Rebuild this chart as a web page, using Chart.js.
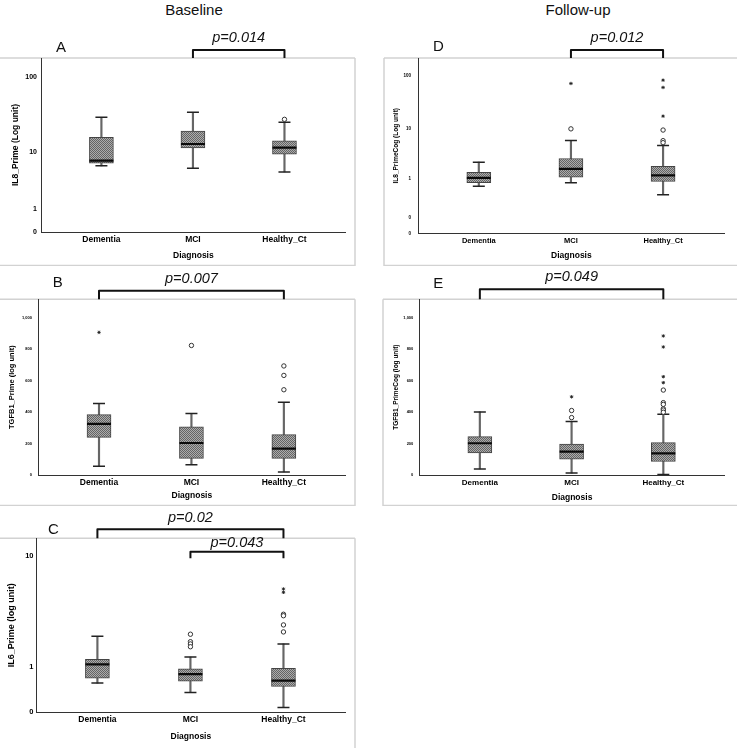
<!DOCTYPE html>
<html>
<head>
<meta charset="utf-8">
<title>Cytokine box plots</title>
<script src="https://cdn.jsdelivr.net/npm/chart.js@4.4.1/dist/chart.umd.min.js"></script>
<style>
  body { margin: 0; background: #fff; }
  #page { position: relative; width: 739px; height: 748px; overflow: hidden; font-family: "Liberation Sans", Arial, sans-serif; }
  #page canvas { position: absolute; }
  .head { position: absolute; top: 0; font-size: 15px; line-height: 19px; color: #111; transform: translateX(-50%); white-space: nowrap; }
</style>
</head>
<body>
<div id="page">
  <div class="head" style="left:194px">Baseline</div>
  <div class="head" style="left:578px">Follow-up</div>
  <canvas id="chartA" width="360" height="266" style="left:0;top:0"></canvas>
  <canvas id="chartD" width="369" height="266" style="left:370px;top:0"></canvas>
  <canvas id="chartB" width="360" height="240" style="left:0;top:266px"></canvas>
  <canvas id="chartE" width="369" height="240" style="left:370px;top:266px"></canvas>
  <canvas id="chartC" width="360" height="242" style="left:0;top:506px"></canvas>
</div>
<script>
const categories = ["Dementia", "MCI", "Healthy_Ct"];

// each group: [lower whisker, Q1, median, Q3, upper whisker]
const il8Baseline = [[6.2, 6.8, 7.4, 15.9, 29.6], [5.7, 11.25, 12.8, 19.3, 34.5], [5.0, 9.2, 11.4, 14.2, 25.4]];
const il8BaselineCircles = [[], [], [27.8]];
const il8BaselineStars = [[], [], []];

const tgfBaseline = [[55, 239, 325, 383, 454], [65, 105, 203, 305, 391], [19, 105, 167, 256, 461]];
const tgfBaselineCircles = [[], [822], [692, 632, 541]];
const tgfBaselineStars = [[905], [], []];

const il6Baseline = [[0.56, 0.68, 1.08, 1.25, 2.21], [0.35, 0.61, 0.79, 0.94, 1.33], [0.07, 0.48, 0.62, 0.96, 1.85]];
const il6BaselineCircles = [[], [2.31, 1.95, 1.85, 1.73], [3.5, 3.4, 2.82, 2.43]];
const il6BaselineStars = [[], [], [5.64, 5.31]];

const il8Follow = [[0.70, 0.83, 1.05, 1.36, 2.19], [0.83, 1.09, 1.61, 2.59, 5.84], [0.45, 0.88, 1.18, 1.82, 4.67]];
const il8FollowCircles = [[], [9.8], [9.3, 5.8, 5.3]];
const il8FollowStars = [[], [72.5], [83.9, 60.9, 17.2]];

const tgfFollow = [[38, 140, 202, 244, 401], [12, 100, 148, 197, 340], [3, 86, 138, 206, 386]];
const tgfFollowCircles = [[], [410, 365], [540, 460, 449, 421, 413, 399]];
const tgfFollowStars = [[], [497], [884, 814, 625, 587]];

const logTicks = [0, 1, 10, 100];
const logTickLabels = ["0", "1", "10", "100"];
const il6Ticks = [0, 1, 10];
const il6TickLabels = ["0", "1", "10"];
const il8FollowTicks = [0, 0.1, 1, 10, 100];
const il8FollowTickLabels = ["0", "0", "1", "10", "100"];
const tgfTicks = [0, 200, 400, 600, 800, 1000];
const tgfTickLabels = ["0", "200", "400", "600", "800", "1,000"];

const FONT = "'Liberation Sans', Arial, sans-serif";
const log1 = v => Math.log10(v + 1);
const logTenth = v => Math.log10(v + 0.1);
const plain = v => v;

// grey dotted fill like the SPSS boxes
function hatch() {
    const c = document.createElement("canvas");
    c.width = 2; c.height = 2;
    const g = c.getContext("2d");
    g.fillStyle = "#acacac"; g.fillRect(0, 0, 2, 2);
    g.fillStyle = "#646464"; g.fillRect(0, 0, 1, 1); g.fillRect(1, 1, 1, 1);
    return g.createPattern(c, "repeat");
}

function decor(p) {
    return {
        id: "decor",
        beforeDraw(chart) {
            const ctx = chart.ctx;
            ctx.save();
            ctx.strokeStyle = "#d2d2d2";
            ctx.lineWidth = 1.5;
            p.frame.forEach(([x1, y1, x2, y2]) => {
                ctx.beginPath(); ctx.moveTo(x1, y1); ctx.lineTo(x2, y2); ctx.stroke();
            });
            ctx.restore();
        },
        afterDraw(chart) {
            const ctx = chart.ctx;
            const xs = chart.scales.x;
            ctx.save();
            ctx.fillStyle = "#111";
            ctx.strokeStyle = "#111";
            ctx.lineWidth = 2;
            ctx.lineJoin = "round";
            ctx.textAlign = "center";
            ctx.textBaseline = "middle";
            p.brackets.forEach(b => {
                const x1 = xs.getPixelForValue(categories.indexOf(b.from) + 1);
                const x2 = xs.getPixelForValue(categories.indexOf(b.to) + 1);
                ctx.beginPath();
                ctx.moveTo(x1, b.y + b.leg);
                ctx.lineTo(x1, b.y);
                ctx.lineTo(x2, b.y);
                ctx.lineTo(x2, b.y + b.leg);
                ctx.stroke();
                ctx.font = "italic 14.5px " + FONT;
                ctx.fillText(b.label, (x1 + x2) / 2, b.ly);
            });
            ctx.font = "15px " + FONT;
            ctx.fillText(p.letter, p.letterX, p.letterY);
            ctx.restore();
        },
    };
}

function boxChart(p) {
    const tf = p.tf;
    const pos = i => i + 1;
    const whiskers = p.stats.map((s, i) => ({ x: pos(i), y: [tf(s[0]), tf(s[4])] }));
    const boxes = p.stats.map((s, i) => ({ x: pos(i), y: [tf(s[1]), tf(s[3])] }));
    const caps = p.stats.flatMap((s, i) => [{ x: pos(i), y: tf(s[0]) }, { x: pos(i), y: tf(s[4]) }]);
    const medians = p.stats.map((s, i) => ({ x: pos(i), y: tf(s[2]) }));
    const rings = p.circles.flatMap((list, i) => list.map(v => ({ x: pos(i), y: tf(v) })));
    const asterisks = p.stars.flatMap((list, i) => list.map(v => ({ x: pos(i), y: tf(v) })));

    return new Chart(document.getElementById(p.id), {
        type: "bar",
        data: {
            datasets: [
                { type: "bar", data: whiskers, barThickness: 1.5, grouped: false, backgroundColor: "#666", borderWidth: 0, order: 6 },
                { type: "bar", data: boxes, barThickness: 24, grouped: false, backgroundColor: hatch(), borderColor: "#444", borderWidth: 1, borderSkipped: false, order: 5 },
                { type: "scatter", data: caps, pointStyle: "line", pointRadius: 6, pointBorderWidth: 1.5, pointBorderColor: "#222", order: 4 },
                { type: "scatter", data: medians, pointStyle: "line", pointRadius: 12, pointBorderWidth: 2.2, pointBorderColor: "#0a0a0a", order: 3 },
                { type: "scatter", data: rings, pointStyle: "circle", pointRadius: 2.2, pointBorderWidth: 1, pointBorderColor: "#333", pointBackgroundColor: "#fff", order: 2 },
                { type: "scatter", data: asterisks, pointStyle: "star", pointRadius: 1.7, pointBorderWidth: 0.9, pointBorderColor: "#222", order: 1 },
            ],
        },
        options: {
            responsive: false,
            animation: false,
            events: [],
            layout: { padding: { top: p.padTop, right: p.padRight, left: 0, bottom: 0 } },
            plugins: { legend: { display: false }, tooltip: { enabled: false } },
            scales: {
                x: {
                    type: "linear",
                    min: 0.34,
                    max: 3.67,
                    offset: false,
                    grid: { display: false, drawTicks: false },
                    border: { display: true, color: "#333", width: 1 },
                    afterBuildTicks: axis => { axis.ticks = categories.map((c, i) => ({ value: pos(i) })); },
                    afterFit: axis => { axis.height = p.xh; },
                    ticks: {
                        autoSkip: false,
                        maxRotation: 0,
                        padding: 3,
                        color: "#000",
                        font: { family: FONT, size: p.catSize, weight: "bold" },
                        callback: (v, i) => categories[i],
                    },
                    title: {
                        display: true,
                        text: "Diagnosis",
                        color: "#000",
                        font: { family: FONT, size: 8.5, weight: "bold" },
                        padding: { top: 0, bottom: p.xTitlePad },
                    },
                },
                y: {
                    type: "linear",
                    min: p.ymin,
                    max: p.ymax,
                    grid: { display: false, drawTicks: false },
                    border: { display: true, color: "#333", width: 1 },
                    afterBuildTicks: axis => { axis.ticks = p.ticks.map(v => ({ value: tf(v) })); },
                    afterFit: axis => { axis.width = p.yw; },
                    ticks: {
                        autoSkip: false,
                        padding: p.tickPad,
                        color: "#000",
                        font: { family: FONT, size: p.tickSize, weight: "bold" },
                        callback: (v, i) => p.tickLabels[i],
                    },
                    title: {
                        display: true,
                        text: p.yTitle,
                        color: "#000",
                        font: { family: FONT, size: p.yTitleSize, weight: "bold" },
                        padding: { top: p.yTitlePad, bottom: 0 },
                    },
                },
            },
        },
        plugins: [decor(p)],
    });
}

boxChart({
    id: "chartA", stats: il8Baseline, circles: il8BaselineCircles, stars: il8BaselineStars,
    tf: log1, ymin: 0, ymax: 2.254, ticks: logTicks, tickLabels: logTickLabels,
    yw: 41, padTop: 58, padRight: 8, xh: 34,
    tickSize: 7, tickPad: 4, catSize: 8.5, xTitlePad: 4.9,
    yTitle: "IL8_Prime (Log unit)", yTitleSize: 8.5, yTitlePad: 10.5,
    frame: [[0, 58, 355, 58], [355, 58, 355, 266], [0, 265.5, 355, 265.5]],
    letter: "A", letterX: 61, letterY: 47.7,
    brackets: [{ from: "MCI", to: "Healthy_Ct", y: 50, leg: 8, label: "p=0.014", ly: 38.3 }],
});

boxChart({
    id: "chartD", stats: il8Follow, circles: il8FollowCircles, stars: il8FollowStars,
    tf: logTenth, ymin: -1, ymax: 2.347, ticks: il8FollowTicks, tickLabels: il8FollowTickLabels,
    yw: 48, padTop: 58, padRight: 4, xh: 32.5,
    tickSize: 4.5, tickPad: 7, catSize: 7.5, xTitlePad: 4.9,
    yTitle: "IL8_PrimeCog (Log unit)", yTitleSize: 6.5, yTitlePad: 22.8,
    frame: [[14, 58, 14, 266], [14, 58, 367, 58], [14, 265.5, 367, 265.5]],
    letter: "D", letterX: 68.3, letterY: 47,
    brackets: [{ from: "MCI", to: "Healthy_Ct", y: 50, leg: 8, label: "p=0.012", ly: 38.3 }],
});

boxChart({
    id: "chartB", stats: tgfBaseline, circles: tgfBaselineCircles, stars: tgfBaselineStars,
    tf: plain, ymin: 0, ymax: 1115, ticks: tgfTicks, tickLabels: tgfTickLabels,
    yw: 38, padTop: 33.3, padRight: 8, xh: 31,
    tickSize: 4, tickPad: 6, catSize: 8.5, xTitlePad: 4.9,
    yTitle: "TGFB1_Prime (log unit)", yTitleSize: 7.5, yTitlePad: 7.2,
    frame: [[0, 33.3, 355, 33.3], [355, 33.3, 355, 240], [0, 239.5, 355, 239.5]],
    letter: "B", letterX: 57.7, letterY: 16.7,
    brackets: [{ from: "Dementia", to: "Healthy_Ct", y: 24.7, leg: 8.6, label: "p=0.007", ly: 13.3 }],
});

boxChart({
    id: "chartE", stats: tgfFollow, circles: tgfFollowCircles, stars: tgfFollowStars,
    tf: plain, ymin: 0, ymax: 1117, ticks: tgfTicks, tickLabels: tgfTickLabels,
    yw: 49.3, padTop: 33.3, padRight: 5, xh: 31,
    tickSize: 4, tickPad: 6, catSize: 8, xTitlePad: 3.6,
    yTitle: "TGFB1_PrimeCog (log unit)", yTitleSize: 6.5, yTitlePad: 22.1,
    frame: [[13, 33.3, 13, 240], [13, 33.3, 367, 33.3], [13, 239.5, 367, 239.5]],
    letter: "E", letterX: 68.3, letterY: 18,
    brackets: [{ from: "Dementia", to: "Healthy_Ct", y: 23.3, leg: 10, label: "p=0.049", ly: 11.3 }],
});

boxChart({
    id: "chartC", stats: il6Baseline, circles: il6BaselineCircles, stars: il6BaselineStars,
    tf: log1, ymin: 0, ymax: 1.161, ticks: il6Ticks, tickLabels: il6TickLabels,
    yw: 36, padTop: 32.3, padRight: 9, xh: 36,
    tickSize: 7.5, tickPad: 2.5, catSize: 8.5, xTitlePad: 6.2,
    yTitle: "IL6_Prime (log unit)", yTitleSize: 9, yTitlePad: 6.3,
    frame: [[0, 32.3, 355, 32.3], [355, 32.3, 355, 242]],
    letter: "C", letterX: 53.3, letterY: 24,
    brackets: [
        { from: "Dementia", to: "Healthy_Ct", y: 23.3, leg: 9, label: "p=0.02", ly: 12.3 },
        { from: "MCI", to: "Healthy_Ct", y: 45.7, leg: 6.6, label: "p=0.043", ly: 36.7 },
    ],
});
</script>
</body>
</html>
